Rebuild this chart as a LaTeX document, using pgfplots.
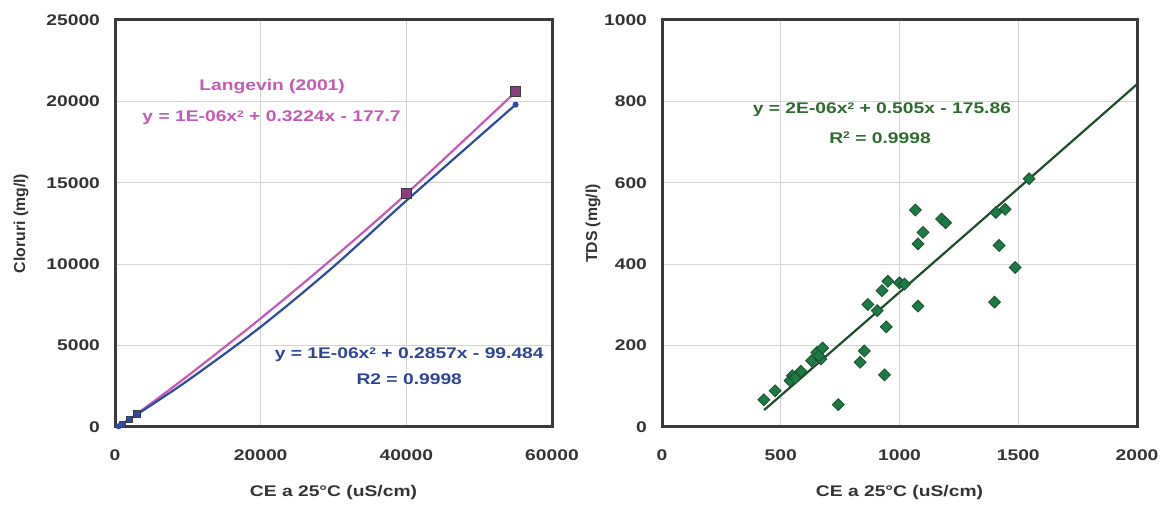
\documentclass[border=0pt]{standalone}
\usepackage{pgfplots}
\pgfplotsset{compat=1.18}
\usepackage{fontspec}
\setmainfont{Liberation Sans}[FakeStretch=1.25]
\newfontfamily\plainsans{Liberation Sans}
\definecolor{magl}{HTML}{C45AB4}
\definecolor{bluel}{HTML}{2E4C9E}
\definecolor{bluet}{HTML}{2F4594}
\definecolor{greenm}{HTML}{1B7A45}
\definecolor{greenl}{HTML}{1E4D2B}
\definecolor{greent}{HTML}{2F6A30}
\definecolor{framec}{HTML}{3A3A3A}
\definecolor{gridc}{HTML}{D4D4D4}
\definecolor{tickc}{HTML}{333333}
\newcommand{\lblfont}{\fontsize{7.7}{9}\selectfont\bfseries}
\newcommand{\ylblfont}{\plainsans\fontsize{7.9}{9.5}\selectfont\bfseries}
\newcommand{\sq}{\raisebox{0.55ex}{\fontsize{4.8}{5}\selectfont 2}}
\pgfplotsset{
  common/.style={
    scale only axis,
    anchor=south west,
    axis line style={framec, line width=1.5pt},
    grid=major,
    major grid style={gridc, line width=0.6pt},
    major tick length=0pt,
    tick label style={font=\lblfont, color=tickc},
    xlabel style={font=\lblfont, color=tickc},
    ylabel style={font=\ylblfont, color=tickc},
    /pgf/number format/assume math mode=true,
    /pgf/number format/1000 sep={},
    scaled ticks=false,
    xticklabel style={yshift=-8pt},
    yticklabel style={xshift=-4pt},
    clip=false,
  }
}
\begin{document}
\begin{tikzpicture}
\useasboundingbox (0,0) rectangle (580pt,254pt);
% ---------- left panel ----------
\begin{axis}[common,
  at={(57.5pt,40.5pt)},
  width=218.5pt, height=203.5pt,
  xmin=0, xmax=60000, ymin=0, ymax=25000,
  xtick={0,20000,40000,60000},
  ytick={0,5000,10000,15000,20000,25000},
  xlabel={CE a 25°C (uS/cm)},
  ylabel={Cloruri (mg/l)},
  xlabel style={at={(axis description cs:0.5,-0.16)}, anchor=center},
  ylabel style={at={(axis description cs:-0.215,0.5)}, anchor=center},
]
% Langevin (2001) curve
\addplot[magl, line width=1.1pt, smooth] coordinates {
  (600,20) (1000,145) (2000,472) (3000,799) (10000,3146) (20000,6670)
  (30000,10394) (40000,14318) (55000,20579)};
% measured curve
\addplot[bluel, line width=1.1pt, smooth] coordinates {
  (500,45) (1000,187) (2000,476) (3000,766) (10000,2860) (20000,6150)
  (30000,9850) (40000,13900) (55000,19800)};
% markers
\addplot[only marks, mark=square*, mark size=1.6pt, mark options={fill=magl!60!black, draw=framec, line width=0.4pt}] coordinates {
  (1000,145) (2000,472) (3000,799)};
\addplot[only marks, mark=square*, mark size=2.6pt, mark options={fill=magl!70!black, draw=framec, line width=0.4pt}] coordinates {
  (40000,14350) (55000,20600)};
\addplot[only marks, mark=*, mark size=1.3pt, color=bluel] coordinates {
  (500,45) (1000,187) (2000,476) (3000,766) (55000,19800)};
\node[font=\lblfont, color=magl] at (axis cs:21570,20886) {Langevin (2001)};
\node[font=\lblfont, color=magl] at (axis cs:21500,19000) {y = 1E-06x\sq{} + 0.3224x - 177.7};
\node[font=\lblfont, color=bluet] at (axis cs:40394,4423) {y = 1E-06x\sq{} + 0.2857x - 99.484};
\node[font=\lblfont, color=bluet] at (axis cs:40400,2949) {R2 = 0.9998};
\end{axis}
% ---------- right panel ----------
\begin{axis}[common,
  at={(331pt,40.5pt)},
  width=237.5pt, height=203.5pt,
  xmin=0, xmax=2000, ymin=0, ymax=1000,
  xtick={0,500,1000,1500,2000},
  ytick={0,200,400,600,800,1000},
  xlabel={CE a 25°C (uS/cm)},
  ylabel={TDS (mg/l)},
  xlabel style={at={(axis description cs:0.5,-0.16)}, anchor=center},
  ylabel style={at={(axis description cs:-0.145,0.5)}, anchor=center},
]
\addplot[greenl, line width=1.1pt] coordinates {
  (430,41.7) (600,127.9) (800,229.4) (1000,331.1) (1200,433.0)
  (1400,535.1) (1600,637.3) (1800,739.6) (2000,842.1)};
\addplot[only marks, mark=square*, mark size=2.1pt,
  mark options={rotate=45, fill=greenm, draw=greenl, line width=0.4pt}] coordinates {
  (429,67) (476,89) (549,126) (539,114) (560,120) (585,137)
  (630,163) (652,183) (676,194) (669,167) (660,175)
  (742,55) (834,159) (852,187) (937,128) (944,246)
  (867,301) (906,286) (926,335) (951,358) (1000,354) (1021,351)
  (1078,297) (1067,533) (1099,478) (1078,450) (1177,511) (1194,502)
  (1400,307) (1419,446) (1406,527) (1445,535) (1487,392) (1546,610)};
\node[font=\lblfont, color=greent] at (axis cs:926,779) {y = 2E-06x\sq{} + 0.505x - 175.86};
\node[font=\lblfont, color=greent] at (axis cs:918,711) {R\sq{} = 0.9998};
\end{axis}
\end{tikzpicture}
\end{document}
